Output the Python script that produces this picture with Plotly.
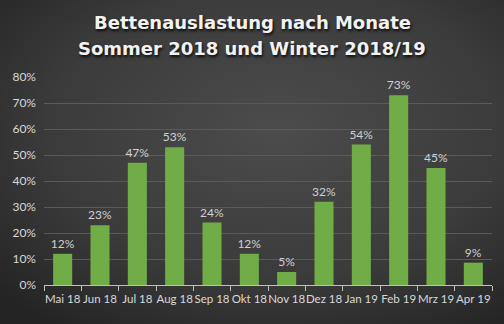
import base64
import plotly.graph_objects as go

# Monthly bed occupancy, summer 2018 and winter 2018/19
months = ["Mai 18", "Jun 18", "Jul 18", "Aug 18", "Sep 18", "Okt 18",
          "Nov 18", "Dez 18", "Jan 19", "Feb 19", "Mrz 19", "Apr 19"]
occupancy = [0.12, 0.23, 0.47, 0.53, 0.24, 0.12,
             0.05, 0.32, 0.54, 0.73, 0.45, 0.086]
y_ticks = [0, 0.1, 0.2, 0.3, 0.4, 0.5, 0.6, 0.7, 0.8]
title_lines = ["Bettenauslastung nach Monate", "Sommer 2018 und Winter 2018/19"]

W, H = 504, 324
L, R, T, B = 44, 12, 77, 39
pw, ph = W - L - R, H - T - B

# dark radial background behind the whole figure
svg = f"""<svg xmlns='http://www.w3.org/2000/svg' width='{W}' height='{H}' viewBox='0 0 {W} {H}' preserveAspectRatio='none'>
<defs><radialGradient id='g' cx='55%' cy='40%' r='75%'>
<stop offset='0' stop-color='#4c4c4c'/><stop offset='0.6' stop-color='#3b3b3b'/><stop offset='1' stop-color='#242424'/>
</radialGradient></defs><rect width='{W}' height='{H}' fill='url(#g)'/></svg>"""
bg_src = "data:image/svg+xml;base64," + base64.b64encode(svg.encode()).decode()

fig = go.Figure(go.Bar(
    x=months, y=occupancy,
    marker=dict(color="#70ad47", line=dict(width=0)),
    text=occupancy, texttemplate="%{y:.0%}", textposition="outside",
    constraintext="none",
    textfont=dict(family="Lato", size=12, color="#d0d0d0"),
    cliponaxis=False,
))


def px_to_paper_y(py):
    return 1 + (T - py) / ph


# two-line chart title, centred over the figure
for line, cy in zip(title_lines, [22.5, 48]):
    fig.add_annotation(
        text=line, xref="paper", yref="paper",
        x=(W / 2 - L) / pw, y=px_to_paper_y(cy),
        xanchor="center", yanchor="middle", showarrow=False,
        font=dict(family="DejaVu Sans", size=18, color="#f2f2f2", weight="bold",
                  shadow="1px 2px 3px rgba(0,0,0,0.85)"),
    )

fig.update_layout(
    width=W, height=H,
    margin=dict(l=L, r=R, t=T, b=B),
    paper_bgcolor="#363636", plot_bgcolor="rgba(0,0,0,0)",
    bargap=0.49,
    showlegend=False,
    images=[dict(source=bg_src, xref="paper", yref="paper",
                 x=-L / pw, y=1 + T / ph, sizex=W / pw, sizey=H / ph,
                 sizing="stretch", xanchor="left", yanchor="top", layer="below")],
    xaxis=dict(
        type="category", showgrid=False, showline=True, linecolor="#bfbfbf",
        linewidth=1, ticks="outside", tickson="boundaries", ticklen=5,
        tickcolor="#bfbfbf", tickangle=0, ticklabelstandoff=3,
        tickfont=dict(family="Lato", size=11.5, color="#d9d9d9"),
        fixedrange=True,
    ),
    yaxis=dict(
        range=[0, 0.8], tickvals=y_ticks, tickformat=".0%",
        showgrid=True, gridcolor="#5a5a5a", gridwidth=1, zeroline=False,
        showline=False, ticks="", ticklabelstandoff=7,
        tickfont=dict(family="Lato", size=12, color="#d9d9d9"),
    ),
)

fig.write_html("out.html")
